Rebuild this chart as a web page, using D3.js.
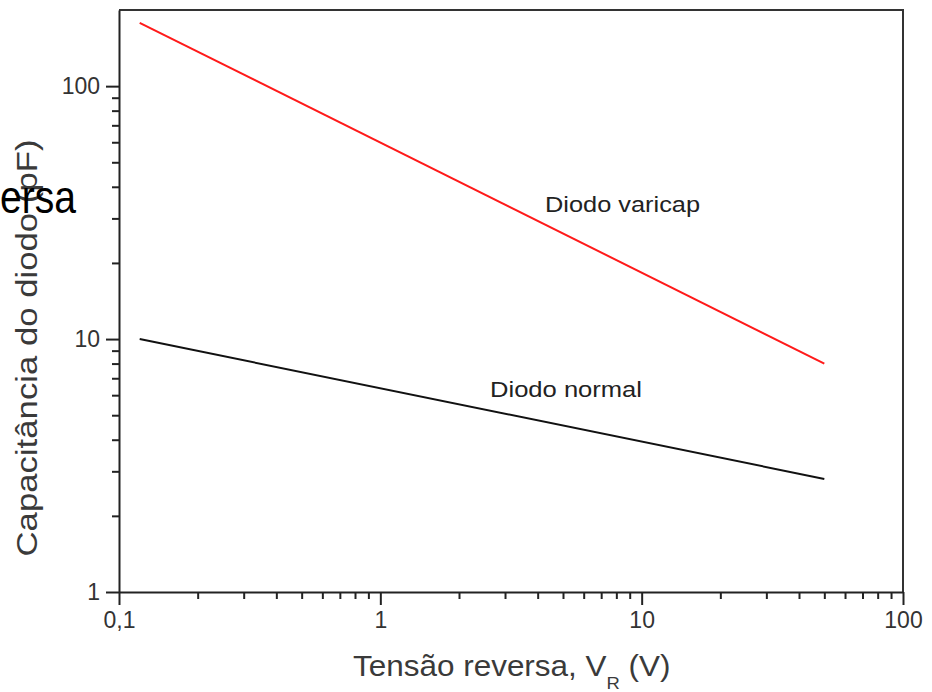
<!DOCTYPE html>
<html>
<head>
<meta charset="utf-8">
<script src="https://cdn.jsdelivr.net/npm/d3@7"></script>
<style>
  html, body { margin: 0; padding: 0; background: #fff; }
  svg { display: block; }
  text { font-family: "Liberation Sans", Arial, sans-serif; }
</style>
</head>
<body>
<svg id="chart" width="932" height="692"></svg>
<script>
// Reverse voltage (V) at the two ends of each curve
const voltage = [0.12, 50];
// Diode capacitance (pF)
const varicapCap = [178, 8];
const normalCap = [10, 2.8];

// Axis ticks and labels
const xMajorTicks = [0.1, 1, 10, 100];
const xTickLabels = ["0,1", "1", "10", "100"];
const yMajorTicks = [1, 10, 100];
const yTickLabels = ["1", "10", "100"];
const xMinorTicks = [2, 3, 4, 5, 6, 7, 8, 9].flatMap(m => [m * 0.1, m, m * 10]);
const yMinorTicks = [2, 3, 4, 5, 6, 7, 8, 9].flatMap(m => [m, m * 10]);

const svg = d3.select("#chart");
const plot = { left: 119, right: 903, top: 10, bottom: 592 };

const x = d3.scaleLog().domain([0.1, 100]).range([plot.left, plot.right]);
const y = d3.scaleLog().domain([1, 200]).range([plot.bottom, plot.top]);

// Frame (top and right edges)
svg.append("path")
  .attr("d", `M${plot.left},${plot.top}H${plot.right}V${plot.bottom}`)
  .attr("fill", "none")
  .attr("stroke", "#333")
  .attr("stroke-width", 2);

// Minor ticks
svg.append("g")
  .attr("transform", `translate(0,${plot.bottom})`)
  .call(d3.axisBottom(x).tickValues(xMinorTicks).tickSize(7).tickFormat(""))
  .call(g => g.select(".domain").remove())
  .call(g => g.selectAll("line").attr("stroke", "#222").attr("stroke-width", 2));

svg.append("g")
  .attr("transform", `translate(${plot.left},0)`)
  .call(d3.axisLeft(y).tickValues(yMinorTicks).tickSize(7).tickFormat(""))
  .call(g => g.select(".domain").remove())
  .call(g => g.selectAll("line").attr("stroke", "#222").attr("stroke-width", 2));

// Major ticks with labels
const xAxis = svg.append("g")
  .attr("transform", `translate(0,${plot.bottom})`)
  .call(d3.axisBottom(x).tickValues(xMajorTicks).tickSize(13).tickSizeOuter(0)
    .tickPadding(7).tickFormat((d, i) => xTickLabels[i]));
xAxis.select(".domain").attr("stroke", "#222").attr("stroke-width", 2);
xAxis.selectAll("line").attr("stroke", "#222").attr("stroke-width", 2);
xAxis.selectAll("text").attr("font-size", 23).attr("fill", "#333")
  .attr("font-family", "Liberation Sans, Arial, sans-serif");

const yAxis = svg.append("g")
  .attr("transform", `translate(${plot.left},0)`)
  .call(d3.axisLeft(y).tickValues(yMajorTicks).tickSize(13).tickSizeOuter(0)
    .tickPadding(6).tickFormat((d, i) => yTickLabels[i]));
yAxis.select(".domain").attr("stroke", "#222").attr("stroke-width", 2);
yAxis.selectAll("line").attr("stroke", "#222").attr("stroke-width", 2);
yAxis.selectAll("text").attr("font-size", 23).attr("fill", "#333")
  .attr("font-family", "Liberation Sans, Arial, sans-serif");

// Curves
const line = d3.line().x(d => x(d[0])).y(d => y(d[1]));
svg.append("path")
  .datum(voltage.map((v, i) => [v, varicapCap[i]]))
  .attr("d", line)
  .attr("fill", "none")
  .attr("stroke", "#ff1a1a")
  .attr("stroke-width", 2);
svg.append("path")
  .datum(voltage.map((v, i) => [v, normalCap[i]]))
  .attr("d", line)
  .attr("fill", "none")
  .attr("stroke", "#111")
  .attr("stroke-width", 2);

// Curve labels
svg.append("text").attr("x", 545).attr("y", 212)
  .attr("font-size", 22).attr("fill", "#222")
  .attr("textLength", 155).attr("lengthAdjust", "spacingAndGlyphs")
  .text("Diodo varicap");
svg.append("text").attr("x", 490).attr("y", 397)
  .attr("font-size", 22).attr("fill", "#222")
  .attr("textLength", 152).attr("lengthAdjust", "spacingAndGlyphs")
  .text("Diodo normal");

// Axis titles
const xTitle = svg.append("text")
  .attr("transform", "translate(353,676) scale(1.085,1)")
  .attr("font-size", 29).attr("fill", "#3a3a3a");
xTitle.append("tspan").text("Tensão reversa, V");
xTitle.append("tspan").attr("font-size", 17).attr("dy", 13).text("R");
xTitle.append("tspan").attr("dy", -13).text(" (V)");

svg.append("text")
  .attr("transform", "translate(37,348) rotate(-90)")
  .attr("text-anchor", "middle")
  .attr("font-size", 30).attr("fill", "#3a3a3a")
  .attr("textLength", 417).attr("lengthAdjust", "spacingAndGlyphs")
  .text("Capacitância do diodo (pF)");

// Slide title fragment overlapping the left margin
svg.append("text")
  .attr("x", 0).attr("y", 213)
  .attr("font-family", "'Open Sans', Lato, sans-serif")
  .attr("font-size", 46).attr("fill", "#000")
  .attr("textLength", 76).attr("lengthAdjust", "spacingAndGlyphs")
  .text("ersa");
</script>
</body>
</html>
